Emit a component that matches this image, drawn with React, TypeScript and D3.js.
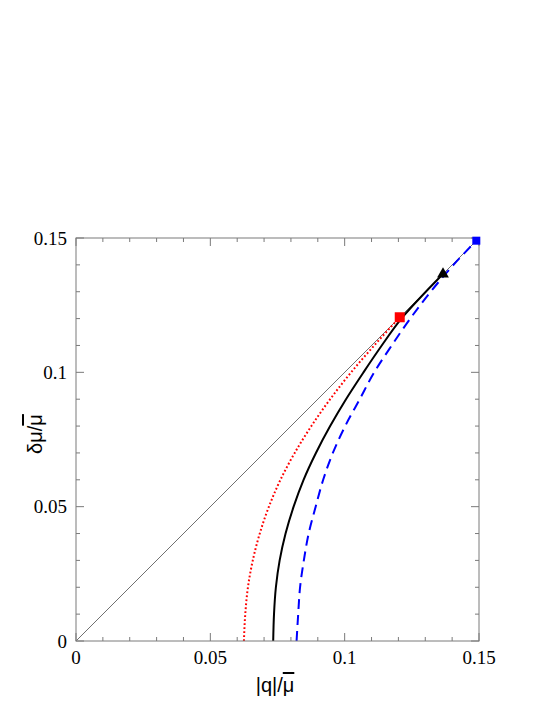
import React from "react";
import * as d3 from "d3";

// curves: delta mu / mu (shared grid) vs |q|/mu
const dmuGrid = [0, 0.01, 0.02, 0.03, 0.04, 0.05, 0.06, 0.07, 0.08, 0.09, 0.10, 0.11];

const redDmu = [...dmuGrid, 0.1205];
const redQ = [0.0625, 0.0630, 0.0640, 0.0658, 0.0684, 0.0718, 0.0761, 0.0814, 0.0876, 0.0946, 0.1024, 0.1110, 0.1205];

const blackDmu = [...dmuGrid, 0.12, 0.13, 0.1366];
const blackQ = [0.0734, 0.0737, 0.0744, 0.0758, 0.0780, 0.0810, 0.0847, 0.0893, 0.0946, 0.1005, 0.1070, 0.1138, 0.1211, 0.1302, 0.1366];

const blueDmu = [...dmuGrid, 0.12, 0.13, 0.14, 0.149];
const blueQ = [0.0821, 0.0827, 0.0834, 0.0848, 0.0866, 0.0892, 0.0920, 0.0956, 0.1002, 0.1056, 0.1110, 0.1175, 0.1244, 0.1320, 0.1405, 0.1490];

const diagonal = [0, 0.15];
const redEnd = [0.1205, 0.1205];
const blackEnd = [0.1366, 0.1366];
const blueEnd = [0.149, 0.149];

const majorTicks = [0, 0.05, 0.1, 0.15];
const majorLabels = ["0", "0.05", "0.1", "0.15"];
const minorTicks = [0.01, 0.02, 0.03, 0.04, 0.06, 0.07, 0.08, 0.09, 0.11, 0.12, 0.13, 0.14];

const left = 76, right = 479, top = 238, bottom = 641;

export default function App() {
  const x = d3.scaleLinear().domain([0, 0.15]).range([left, right]);
  const y = d3.scaleLinear().domain([0, 0.15]).range([bottom, top]);
  const line = d3.line<[number, number]>().x(d => x(d[0])).y(d => y(d[1])).curve(d3.curveMonotoneY);
  const zip = (a: number[], b: number[]) => a.map((v, i) => [v, b[i]] as [number, number]);

  const axisColor = "#7a7a7a";
  const serif = "'Liberation Serif', 'Times New Roman', Times, 'Nimbus Roman', 'DejaVu Serif', serif";
  const sans = "'Liberation Sans', Arial, Helvetica, sans-serif";

  const ticks = (vals: number[], len: number) =>
    vals.map(v => (
      <g key={"t" + v + len}>
        <line x1={x(v)} x2={x(v)} y1={bottom} y2={bottom - len} />
        <line x1={x(v)} x2={x(v)} y1={top} y2={top + len} />
        <line x1={left} x2={left + len} y1={y(v)} y2={y(v)} />
        <line x1={right} x2={right - len} y1={y(v)} y2={y(v)} />
      </g>
    ));

  return (
    <svg width={545} height={705} style={{ position: "absolute", left: 0, top: 0 }}>
      <rect width={545} height={705} fill="white" />
      <line x1={x(diagonal[0])} y1={y(diagonal[0])} x2={x(diagonal[1])} y2={y(diagonal[1])} stroke="#707070" strokeWidth={1} />
      <path d={line(zip(redQ, redDmu)) || ""} fill="none" stroke="#ff0000" strokeWidth={2} strokeDasharray="1.8,2.2" />
      <path d={line(zip(blackQ, blackDmu)) || ""} fill="none" stroke="#000" strokeWidth={2} />
      <path d={line(zip(blueQ, blueDmu)) || ""} fill="none" stroke="#0000ff" strokeWidth={2} strokeDasharray="10,6" />

      <g stroke={axisColor} strokeWidth={1}>
        {ticks(minorTicks, 4)}
        {ticks(majorTicks, 8)}
        <rect x={left} y={top} width={right - left} height={bottom - top} fill="none" />
      </g>

      <rect x={x(redEnd[0]) - 5} y={y(redEnd[1]) - 5} width={10} height={10} fill="#ff0000" />
      <path d={d3.symbol(d3.symbolTriangle, 60)() || ""} transform={`translate(${x(blackEnd[0])},${y(blackEnd[1])})`} fill="#000" />
      <rect x={x(blueEnd[0]) - 4} y={y(blueEnd[1]) - 4} width={8} height={8} fill="#0000ff" />

      {majorTicks.map((v, i) => (
        <text key={"x" + v} x={x(v)} y={664} textAnchor="middle" fontFamily={serif} fontSize={19}>{majorLabels[i]}</text>
      ))}
      {majorTicks.map((v, i) => (
        <text key={"y" + v} x={67} y={y(v)} dy="0.35em" textAnchor="end" fontFamily={serif} fontSize={19}>{majorLabels[i]}</text>
      ))}

      <text x={275} y={692} textAnchor="middle" fontFamily={sans} fontSize={20}>
        |q|/<tspan style={{ textDecoration: "overline" }}>μ</tspan>
      </text>
      <text transform={`translate(42,434) rotate(-90)`} textAnchor="middle" fontFamily={sans} fontSize={20}>
        δμ/<tspan style={{ textDecoration: "overline" }}>μ</tspan>
      </text>
    </svg>
  );
}
